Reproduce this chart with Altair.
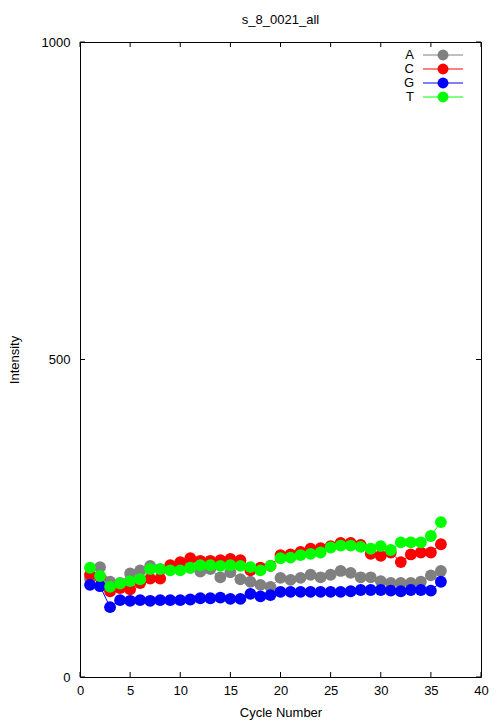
import altair as alt
import pandas as pd

cycles = list(range(1, 37))
bases = ["A", "C", "G", "T"]
colors = ["#808080", "#ff0000", "#0000ff", "#00ff00"]

A = [155, 173, 150, 148, 163, 168, 175, 170, 170, 170, 172, 166, 170, 157, 165, 154, 150, 145,
     142, 156, 153, 156, 161, 157, 161, 167, 164, 157, 157, 151, 148, 148, 148, 150, 160, 167]
C = [161, 157, 135, 140, 138, 148, 155, 155, 176, 181, 187, 183, 183, 184, 186, 184, 168, 172,
     175, 192, 193, 197, 202, 203, 206, 211, 211, 208, 194, 191, 196, 181, 193, 196, 196, 209]
G = [145, 143, 110, 121, 120, 121, 120, 121, 121, 121, 122, 124, 124, 125, 123, 123, 131, 127,
     129, 134, 134, 134, 134, 134, 134, 134, 135, 137, 137, 137, 136, 135, 137, 137, 136, 150]
T = [172, 159, 142, 147, 151, 154, 170, 170, 168, 168, 172, 176, 176, 175, 176, 175, 173, 168,
     175, 187, 188, 192, 194, 196, 204, 207, 207, 205, 202, 206, 200, 212, 212, 212, 222, 244]

x_ticks = [0, 5, 10, 15, 20, 25, 30, 35, 40]
y_ticks = [0, 500, 1000]

W, H = 401, 635
FONT = "Liberation Sans"

series = {"A": A, "C": C, "G": G, "T": T}
df = pd.DataFrame([
    {"cycle": c, "base": b, "value": v}
    for b in bases for c, v in zip(cycles, series[b])
])

xscale = alt.Scale(domain=[0, 40], nice=False, zero=False)
yscale = alt.Scale(domain=[0, 1000], nice=False, zero=False)

xaxis = alt.Axis(values=x_ticks, ticks=False, domain=False, grid=False, format="d",
                 labelPadding=7, labelFontSize=13, labelFont=FONT,
                 labelColor="black", title="Cycle Number", titleFontSize=13,
                 titleFont=FONT, titleFontWeight="normal", titleColor="black",
                 titleY=29, labelFlush=False)
yaxis = alt.Axis(values=y_ticks, ticks=False, domain=False, grid=False, format="d",
                 labelPadding=10, labelFontSize=13, labelFont=FONT,
                 labelColor="black", title="Intensity", titleFontSize=13,
                 titleFont=FONT, titleFontWeight="normal", titleColor="black",
                 titleX=-59, titleY=H / 2, labelFlush=False)

xenc = alt.X("cycle:Q", scale=xscale, axis=xaxis)
yenc = alt.Y("value:Q", scale=yscale, axis=yaxis)

layers = []
for b, col in zip(bases, colors):
    sub = df[df["base"] == b]
    line = alt.Chart(sub).mark_line(color=col, strokeWidth=1).encode(x=xenc, y=yenc)
    pts = alt.Chart(sub).mark_circle(color=col, size=140, opacity=1).encode(x=xenc, y=yenc)
    layers += [line, pts]

# inward ticks (gnuplot style, mirrored)
xt = pd.DataFrame({"t": x_ticks})
yt = pd.DataFrame({"t": y_ticks})
tx = alt.X("t:Q", scale=xscale, axis=xaxis)
ty = alt.Y("t:Q", scale=yscale, axis=yaxis)
tick_layers = [
    alt.Chart(xt).mark_rule(color="black", strokeWidth=1).encode(x=tx, y=alt.value(H), y2=alt.value(H - 5)),
    alt.Chart(xt).mark_rule(color="black", strokeWidth=1).encode(x=tx, y=alt.value(0), y2=alt.value(5)),
    alt.Chart(yt).mark_rule(color="black", strokeWidth=1).encode(y=ty, x=alt.value(0), x2=alt.value(5)),
    alt.Chart(yt).mark_rule(color="black", strokeWidth=1).encode(y=ty, x=alt.value(W), x2=alt.value(W - 5)),
]

# gnuplot-style key, top right
leg = pd.DataFrame({"base": bases})
key_layers = []
for i, (b, col) in enumerate(zip(bases, colors)):
    d = leg[leg["base"] == b]
    yy = 13 + 14 * i
    key_layers.append(alt.Chart(d).mark_text(align="right", baseline="middle", fontSize=13,
                                             font=FONT, color="black")
                      .encode(x=alt.value(334), y=alt.value(yy), text="base:N"))
    key_layers.append(alt.Chart(d).mark_rule(color=col, strokeWidth=1)
                      .encode(x=alt.value(343), x2=alt.value(383), y=alt.value(yy)))
    key_layers.append(alt.Chart(d).mark_circle(color=col, size=120, opacity=1)
                      .encode(x=alt.value(363), y=alt.value(yy)))

chart = alt.layer(*layers, *tick_layers, *key_layers).properties(
    width=W, height=H,
    background="white",
    title=alt.TitleParams("s_8_0021_all", fontSize=13, font=FONT, fontWeight="normal",
                          color="black", anchor="middle", offset=9),
    autosize=alt.AutoSizeParams(type="none"),
    padding={"left": 72, "top": 34, "right": 15, "bottom": 44},
).configure_view(stroke="black", strokeWidth=1)

chart.save("out.html", embed_options={"renderer": "svg", "actions": False})
